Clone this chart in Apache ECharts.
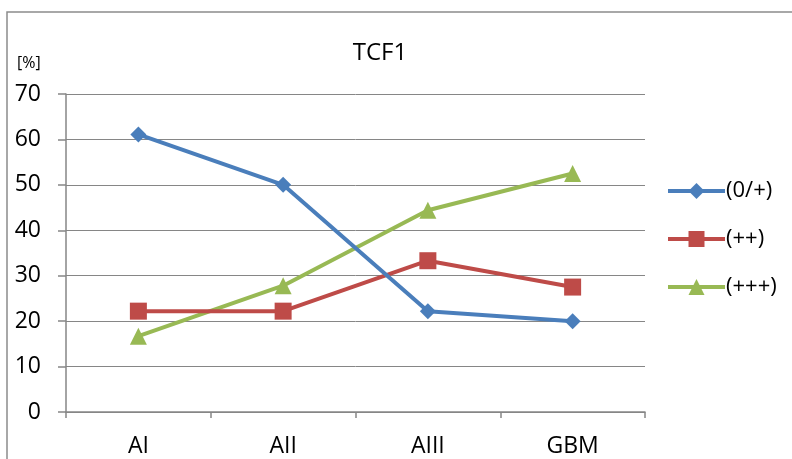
<!DOCTYPE html>
<html><head><meta charset="utf-8">
<script src="https://cdn.jsdelivr.net/npm/echarts@6/dist/echarts.min.js"></script>
<style>html,body{margin:0;padding:0;background:#fff}#c{width:792px;height:459px}</style>
</head><body><div id="c"></div>
<script>
const categories = ['AI', 'AII', 'AIII', 'GBM'];
const seriesNames = ['(0/+)', '(++)', '(+++)'];
const valsLow = [61.1, 50.0, 22.2, 20.0];
const valsMid = [22.2, 22.2, 33.3, 27.5];
const valsHigh = [16.7, 27.8, 44.4, 52.5];
const yTicks = [0, 10, 20, 30, 40, 50, 60, 70];

const font = '"Open Sans", "Liberation Sans", sans-serif';
const chart = echarts.init(document.getElementById('c'), null, {renderer: 'canvas'});
const colors = ['#4A7EBB', '#BE4B48', '#98B954'];
const symbols = ['diamond', 'rect', 'triangle'];
const sizes = [16, 17, 17];
const data = [valsLow, valsMid, valsHigh];

chart.setOption({
  animation: false,
  backgroundColor: '#fff',
  graphic: [
    {type: 'rect', shape: {x: 7, y: 12, width: 800, height: 460}, style: {fill: 'none', stroke: '#8c8c8c', lineWidth: 1.5}},
    {type: 'text', left: 17, top: 55, style: {text: '[%]', font: '16px ' + font, fill: '#000'}}
  ],
  title: {text: 'TCF1', left: 375, top: 36, textAlign: 'center',
    textStyle: {fontFamily: font, fontSize: 24, fontWeight: 'normal', color: '#000'}},
  legend: {
    orient: 'vertical', left: 661, top: 175, itemGap: 26, itemWidth: 57, itemHeight: 20,
    lineStyle: {width: 4},
    textStyle: {fontFamily: font, fontSize: 22, color: '#000', padding: [0, 0, 0, -4]},
    data: seriesNames
  },
  grid: {left: 66, right: 147, top: 94, bottom: 47},
  xAxis: {
    type: 'category', data: categories, boundaryGap: true,
    axisLine: {lineStyle: {color: '#868686', width: 1.5}},
    axisTick: {show: true, length: 6, lineStyle: {color: '#868686', width: 1.5}},
    axisLabel: {fontFamily: font, fontSize: 23, color: '#000', margin: 23}
  },
  yAxis: {
    type: 'value', min: 0, max: 70, interval: 10,
    axisLine: {show: true, lineStyle: {color: '#868686', width: 1.5}},
    axisTick: {show: true, length: 8, lineStyle: {color: '#868686', width: 1.5}},
    splitLine: {lineStyle: {color: '#868686', width: 1}},
    axisLabel: {fontFamily: font, fontSize: 23, color: '#000', margin: 25,
      formatter: v => yTicks.includes(v) ? String(v) : ''}
  },
  series: seriesNames.map((n, i) => ({
    name: n, type: 'line', data: data[i],
    symbol: symbols[i], symbolSize: sizes[i],
    lineStyle: {color: colors[i], width: 4},
    itemStyle: {color: colors[i]},
    z: 3 - i
  }))
});
</script></body></html>
